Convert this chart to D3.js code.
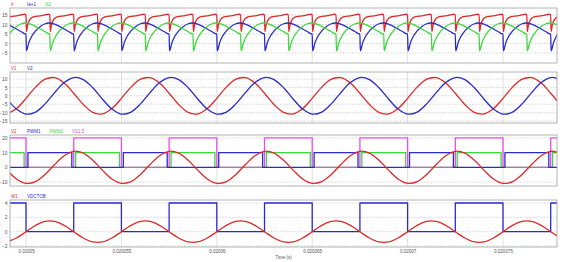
<!DOCTYPE html>
<html>
<head>
<meta charset="utf-8">
<script src="https://cdn.jsdelivr.net/npm/d3@7"></script>
<style>
  body { margin: 0; background: #fff; }
  svg { display: block; font-family: "Liberation Sans", Arial, sans-serif; }
</style>
</head>
<body>
<svg id="chart" width="562" height="262"></svg>
<script>
// time in microseconds after 0.02 s
const timeTicks = [50, 55, 60, 65, 70, 75];
const timeLabels = ["0.02005", "0.020055", "0.02006", "0.020065", "0.02007", "0.020075"];

// sampled sine-like waveforms (every 0.5 us)
const sineT = [49, 49.5, 50, 50.5, 51, 51.5, 52, 52.5, 53, 53.5,
  54, 54.5, 55, 55.5, 56, 56.5, 57, 57.5, 58, 58.5,
  59, 59.5, 60, 60.5, 61, 61.5, 62, 62.5, 63, 63.5,
  64, 64.5, 65, 65.5, 66, 66.5, 67, 67.5, 68, 68.5,
  69, 69.5, 70, 70.5, 71, 71.5, 72, 72.5, 73, 73.5,
  74, 74.5, 75, 75.5, 76, 76.5, 77, 77.5, 78];
const v1 = [-10.8, -7.6, -1.5, 5.2, 9.9, 10.8, 7.6, 1.5, -5.2, -9.9,
  -10.8, -7.6, -1.5, 5.2, 9.9, 10.8, 7.6, 1.5, -5.2, -9.9,
  -10.8, -7.6, -1.5, 5.2, 9.9, 10.8, 7.6, 1.5, -5.2, -9.9,
  -10.8, -7.6, -1.5, 5.2, 9.9, 10.8, 7.6, 1.5, -5.2, -9.9,
  -10.8, -7.6, -1.5, 5.2, 9.9, 10.8, 7.6, 1.5, -5.2, -9.9,
  -10.8, -7.6, -1.5, 5.2, 9.9, 10.8, 7.6, 1.5, -5.2];
const v2 = [-1.9, -7.9, -10.9, -9.7, -4.8, 1.9, 7.9, 10.9, 9.7, 4.8,
  -1.9, -7.9, -10.9, -9.7, -4.8, 1.9, 7.9, 10.9, 9.7, 4.8,
  -1.9, -7.9, -10.9, -9.7, -4.8, 1.9, 7.9, 10.9, 9.7, 4.8,
  -1.9, -7.9, -10.9, -9.7, -4.8, 1.9, 7.9, 10.9, 9.7, 4.8,
  -1.9, -7.9, -10.9, -9.7, -4.8, 1.9, 7.9, 10.9, 9.7, 4.8,
  -1.9, -7.9, -10.9, -9.7, -4.8, 1.9, 7.9, 10.9, 9.7];
const w1 = [-1.43, -0.88, 0, 0.88, 1.43, 1.43, 0.88, 0, -0.88, -1.43,
  -1.43, -0.88, 0, 0.88, 1.43, 1.43, 0.88, 0, -0.88, -1.43,
  -1.43, -0.88, 0, 0.88, 1.43, 1.43, 0.88, 0, -0.88, -1.43,
  -1.43, -0.88, 0, 0.88, 1.43, 1.43, 0.88, 0, -0.88, -1.43,
  -1.43, -0.88, 0, 0.88, 1.43, 1.43, 0.88, 0, -0.88, -1.43,
  -1.43, -0.88, 0, 0.88, 1.43, 1.43, 0.88, 0, -0.88];

// switching waveforms: transition times and levels
const gateT = [49, 50, 52.5, 55, 57.5, 60, 62.5, 65, 67.5, 70, 72.5, 75, 77.5, 78];
const vsV = [20, 0, 20, 0, 20, 0, 20, 0, 20, 0, 20, 0, 20, 20];
const vdcV = [4, 0, 4, 0, 4, 0, 4, 0, 4, 0, 4, 0, 4, 4];
const pwm1T = [49, 50.1, 52.4, 55.1, 57.4, 60.1, 62.4, 65.1, 67.4, 70.1, 72.4, 75.1, 77.4, 78];
const pwm1V = [0, 10, 0, 10, 0, 10, 0, 10, 0, 10, 0, 10, 0, 0];
const pwm2T = [49, 49.9, 52.6, 54.9, 57.6, 59.9, 62.6, 64.9, 67.6, 69.9, 72.6, 74.9, 77.6, 78];
const pwm2V = [10, 0, 10, 0, 10, 0, 10, 0, 10, 0, 10, 0, 10, 10];

// current waveforms: one cycle shape and the times each cycle starts
const iaShapeT = [0, 0.02, 0.15, 0.3, 0.5, 0.75, 1.0, 1.2, 1.5, 1.75, 2.0, 2.25, 2.48];
const iaShapeV = [5.0, -3.9, 0.5, 3.8, 6.6, 9.0, 10.4, 10.8, 10.2, 9.0, 7.6, 6.2, 5.0];
const iaStarts = [47.5, 50, 52.5, 55, 57.5, 60, 62.5, 65, 67.5, 70, 72.5, 75, 77.5];
const ibStarts = [46.25, 48.75, 51.25, 53.75, 56.25, 58.75, 61.25, 63.75, 66.25, 68.75, 71.25, 73.75, 76.25];
const irShapeT = [0, 0.02, 0.08, 0.18, 0.35, 0.6, 0.9, 1.1, 1.2, 1.23];
const irShapeV = [15.2, 6.2, 9.5, 12.3, 13.9, 14.4, 14.8, 15.3, 15.4, 15.2];
const irStarts = [47.5, 48.75, 50, 51.25, 52.5, 53.75, 55, 56.25, 57.5, 58.75, 60, 61.25, 62.5,
  63.75, 65, 66.25, 67.5, 68.75, 70, 71.25, 72.5, 73.75, 75, 76.25, 77.5];

const names1 = ["Ir", "Ia+1", "Ib2"];
const names2 = ["V1", "V2"];
const names3 = ["V2", "PWM1", "PWM2", "VS1.5"];
const names4 = ["W1", "VDCTOB"];

const red = "#e02828", blue = "#2a2ad0", green = "#3cd83c", magenta = "#f048f0";

const svg = d3.select("#chart");
const left = 10, right = 557;
const x = d3.scaleLinear().domain([49.16, 77.83]).range([left, right]);

const zip = (ts, vs) => ts.map((t, i) => ({ t: t, v: vs[i] }));
const cycles = (starts, st, sv) => starts.flatMap(s => st.map((dt, i) => ({ t: s + dt, v: sv[i] })));

const panels = [
  { top: 8, bottom: 63, domain: [-10.3, 18.7], ticks: [15, 10, 5, 0, -5],
    names: names1, colors: [red, blue, green],
    series: [
      { d: cycles(irStarts, irShapeT, irShapeV), c: red, curve: d3.curveMonotoneX },
      { d: cycles(iaStarts, iaShapeT, iaShapeV), c: blue, curve: d3.curveMonotoneX },
      { d: cycles(ibStarts, iaShapeT, iaShapeV), c: green, curve: d3.curveMonotoneX }
    ] },
  { top: 72, bottom: 123, domain: [-16.2, 14.2], ticks: [10, 5, 0, -5, -10, -15],
    names: names2, colors: [red, blue],
    series: [
      { d: zip(sineT, v1), c: red, curve: d3.curveCatmullRom },
      { d: zip(sineT, v2), c: blue, curve: d3.curveCatmullRom }
    ] },
  { top: 135, bottom: 186, domain: [-12.7, 22.0], ticks: [20, 10, 0, -10],
    names: names3, colors: [red, blue, green, magenta],
    series: [
      { d: zip(pwm2T, pwm2V), c: green, curve: d3.curveStepAfter },
      { d: zip(gateT, vsV), c: magenta, curve: d3.curveStepAfter },
      { d: zip(pwm1T, pwm1V), c: blue, curve: d3.curveStepAfter },
      { d: zip(sineT, v2), c: red, curve: d3.curveCatmullRom }
    ] },
  { top: 200, bottom: 247, domain: [-2.14, 4.42], ticks: [4, 2, 0, -2],
    names: names4, colors: [red, blue],
    series: [
      { d: zip(gateT, vdcV), c: blue, curve: d3.curveStepAfter },
      { d: zip(sineT, w1), c: red, curve: d3.curveCatmullRom }
    ] }
];

panels.forEach((p, k) => {
  const y = d3.scaleLinear().domain(p.domain).range([p.bottom, p.top]);
  const g = svg.append("g");

  g.append("clipPath").attr("id", "clip" + k)
    .append("rect").attr("x", left).attr("y", p.top)
    .attr("width", right - left).attr("height", p.bottom - p.top);

  // grid
  g.selectAll(".hg").data(p.ticks).enter().append("line")
    .attr("x1", left).attr("x2", right)
    .attr("y1", d => y(d)).attr("y2", d => y(d))
    .attr("stroke", "#c4c4c4").attr("stroke-width", 0.7)
    .attr("stroke-dasharray", "1.5,1.5");
  g.selectAll(".vg").data(timeTicks).enter().append("line")
    .attr("x1", d => x(d)).attr("x2", d => x(d))
    .attr("y1", p.top).attr("y2", p.bottom)
    .attr("stroke", "#d2d2d2").attr("stroke-width", 0.7);

  // y labels
  const ya = g.append("g").attr("transform", `translate(${left},0)`)
    .call(d3.axisLeft(y).tickValues(p.ticks).tickFormat(d3.format("d"))
      .tickSize(0).tickPadding(2.5));
  ya.select(".domain").remove();
  ya.selectAll("text").attr("font-size", 5).attr("fill", "#555")
    .attr("font-family", "Liberation Sans, Arial, sans-serif");

  // traces
  const plot = g.append("g").attr("clip-path", `url(#clip${k})`);
  p.series.forEach(s => {
    plot.append("path").datum(s.d)
      .attr("fill", "none").attr("stroke", s.c).attr("stroke-width", 1.3)
      .attr("stroke-linejoin", "round")
      .attr("d", d3.line().x(d => x(d.t)).y(d => y(d.v)).curve(s.curve));
  });

  // frame
  g.append("rect").attr("x", left).attr("y", p.top)
    .attr("width", right - left).attr("height", p.bottom - p.top)
    .attr("fill", "none").attr("stroke", "#a0a0a0").attr("stroke-width", 0.8);

  // legend names
  let lx = 11;
  p.names.forEach((n, i) => {
    const t = g.append("text").attr("x", lx).attr("y", p.top - 2.5)
      .attr("font-size", 4.5).attr("fill", p.colors[i]).text(n);
    lx += Math.max(16, t.node().getComputedTextLength() + 9);
  });

  if (k === 3) {
    const xa = g.append("g").attr("transform", `translate(0,${p.bottom})`)
      .call(d3.axisBottom(x).tickValues(timeTicks)
        .tickFormat((d, i) => timeLabels[i]).tickSize(0).tickPadding(3));
    xa.select(".domain").remove();
    xa.selectAll("text").attr("font-size", 4.5).attr("fill", "#555")
      .attr("font-family", "Liberation Sans, Arial, sans-serif");
    g.append("text").attr("x", (left + right) / 2).attr("y", 259)
      .attr("text-anchor", "middle").attr("font-size", 4.5).attr("fill", "#555")
      .text("Time (s)");
  }
});
</script>
</body>
</html>
